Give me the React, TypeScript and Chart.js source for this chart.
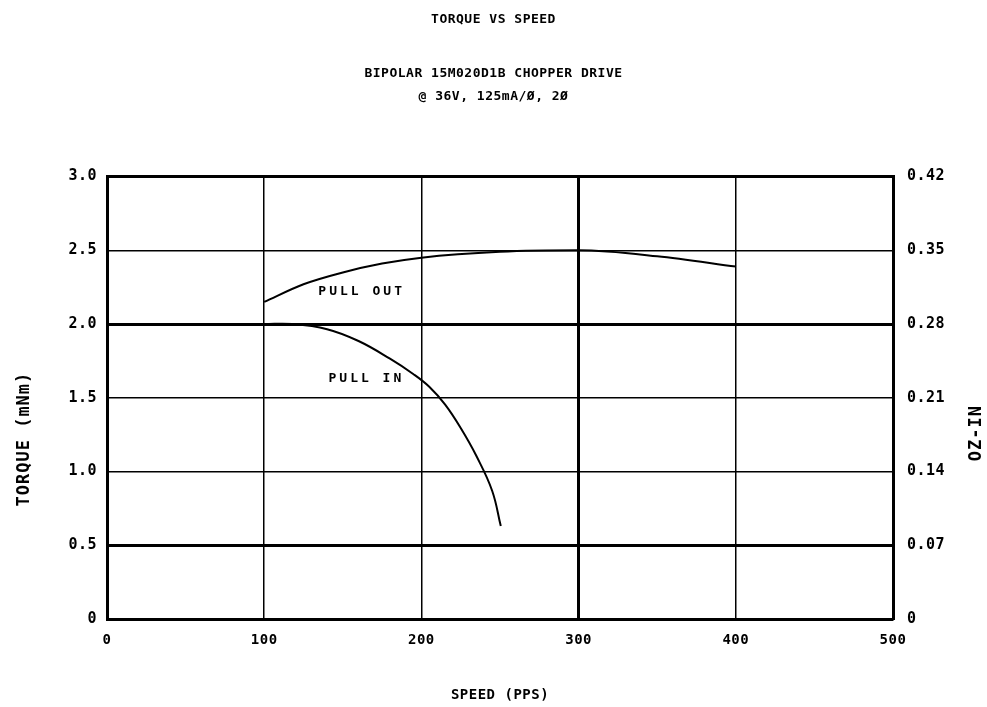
import React, { useEffect, useRef } from 'react';
import { Chart, registerables } from 'chart.js';

Chart.register(...registerables);

const titleText = 'TORQUE VS SPEED';
const subtitleLines = ['BIPOLAR 15M020D1B CHOPPER DRIVE', '@ 36V, 125mA/Ø, 2Ø'];
const xAxisTitle = 'SPEED (PPS)';
const yAxisTitle = 'TORQUE (mNm)';
const y2AxisTitle = 'OZ-IN';

const speedTicks = [0, 100, 200, 300, 400, 500];
const torqueTicks = [0, 0.5, 1.0, 1.5, 2.0, 2.5, 3.0];
const torqueTickLabels = ['0', '0.5', '1.0', '1.5', '2.0', '2.5', '3.0'];
const ozInTickLabels = ['0', '0.07', '0.14', '0.21', '0.28', '0.35', '0.42'];

const pullOutSpeed = [100, 125, 150, 175, 200, 250, 300, 350, 400];
const pullOutTorque = [2.15, 2.27, 2.35, 2.41, 2.45, 2.49, 2.5, 2.46, 2.39];

const pullInSpeed = [100, 118, 140, 160, 180, 195, 205, 215, 225, 235, 245, 250.5];
const pullInTorque = [2.0, 2.0, 1.965, 1.885, 1.765, 1.66, 1.575, 1.455, 1.295, 1.105, 0.87, 0.63];

const curveLabels = ['PULL OUT', 'PULL IN'];
const curveLabelSpeed = [162, 165];
const curveLabelTorque = [2.22, 1.63];

const FONT = "'DejaVu Sans Mono', 'Liberation Mono', monospace";

export default function App() {
  const ref = useRef<HTMLCanvasElement | null>(null);

  useEffect(() => {
    document.body.style.margin = '0';
    const canvas = ref.current;
    if (!canvas) return;

    const drawRotated = (ctx: any, text: string, x: number, y: number) => {
      ctx.save();
      try { ctx.letterSpacing = '1px'; } catch (e) {}
      ctx.fillStyle = '#000';
      ctx.font = `bold 17px ${FONT}`;
      ctx.textAlign = 'center';
      ctx.textBaseline = 'middle';
      ctx.translate(x, y);
      ctx.rotate(-Math.PI / 2);
      ctx.fillText(text, 0, 0);
      ctx.restore();
    };

    const textPlugin = {
      id: 'plotText',
      beforeDraw(chart: any) {
        try { chart.ctx.letterSpacing = '0.5px'; } catch (e) {}
      },
      afterDatasetsDraw(chart: any) {
        const { ctx, scales } = chart;
        ctx.save();
        try { ctx.letterSpacing = '3px'; } catch (e) {}
        ctx.fillStyle = '#000';
        ctx.font = `bold 13px ${FONT}`;
        ctx.textAlign = 'center';
        ctx.textBaseline = 'middle';
        curveLabels.forEach((t, i) => {
          ctx.fillText(t, scales.x.getPixelForValue(curveLabelSpeed[i]), scales.y.getPixelForValue(curveLabelTorque[i]));
        });
        ctx.restore();
      },
      afterDraw(chart: any) {
        const { ctx, scales } = chart;
        drawRotated(ctx, yAxisTitle, 25, scales.y.getPixelForValue(1.22));
        drawRotated(ctx, y2AxisTitle, 977, scales.y2.getPixelForValue(1.26));
      },
    };

    const chart = new Chart(canvas, {
      type: 'line',
      data: {
        datasets: [
          {
            label: 'PULL OUT',
            data: pullOutSpeed.map((s, i) => ({ x: s, y: pullOutTorque[i] })),
            borderColor: '#000',
            borderWidth: 2,
            pointRadius: 0,
            cubicInterpolationMode: 'monotone',
            fill: false,
          },
          {
            label: 'PULL IN',
            data: pullInSpeed.map((s, i) => ({ x: s, y: pullInTorque[i] })),
            borderColor: '#000',
            borderWidth: 2,
            pointRadius: 0,
            tension: 0.4,
            fill: false,
          },
        ],
      },
      options: {
        responsive: false,
        animation: false,
        layout: { padding: 0 },
        plugins: {
          legend: { display: false },
          tooltip: { enabled: false },
          title: {
            display: true,
            text: titleText,
            color: '#000',
            font: { family: FONT, size: 13, weight: 'bold', lineHeight: 1.2 },
            padding: { top: 12, bottom: 0 },
          },
          subtitle: {
            display: true,
            text: subtitleLines,
            color: '#000',
            font: { family: FONT, size: 13, weight: 'bold', lineHeight: 23 / 13 },
            padding: { top: 35, bottom: 68 },
          },
        },
        scales: {
          x: {
            type: 'linear',
            min: 0,
            max: 500,
            afterBuildTicks: (s: any) => { s.ticks = speedTicks.map((v) => ({ value: v })); },
            afterFit: (s: any) => { s.height = 88; },
            ticks: {
              color: '#000',
              font: { family: FONT, size: 14, weight: 'bold' },
              padding: 13,
              maxRotation: 0,
            },
            grid: {
              color: '#000',
              lineWidth: (c: any) => (c.tick && c.tick.value === 300 ? 3 : 1.5),
              drawTicks: false,
            },
            border: { display: true, color: '#000', width: 3 },
            title: {
              display: true,
              text: xAxisTitle,
              color: '#000',
              font: { family: FONT, size: 14, weight: 'bold', lineHeight: 1.2 },
              padding: { top: 0, bottom: 3 },
            },
          },
          y: {
            type: 'linear',
            position: 'left',
            min: 0,
            max: 3,
            afterBuildTicks: (s: any) => { s.ticks = torqueTicks.map((v) => ({ value: v })); },
            afterFit: (s: any) => { s.width = 107; },
            ticks: {
              color: '#000',
              font: { family: FONT, size: 15, weight: 'bold' },
              padding: 10,
              callback: (v: any) => torqueTickLabels[torqueTicks.indexOf(v)],
            },
            grid: {
              color: '#000',
              lineWidth: (c: any) => (c.tick && (c.tick.value === 2 || c.tick.value === 0.5 || c.tick.value === 3) ? 3 : 1.5),
              drawTicks: false,
            },
            border: { display: true, color: '#000', width: 3 },
            title: { display: false, text: yAxisTitle },
          },
          y2: {
            type: 'linear',
            position: 'right',
            min: 0,
            max: 3,
            afterBuildTicks: (s: any) => { s.ticks = torqueTicks.map((v) => ({ value: v })); },
            afterFit: (s: any) => { s.width = 94; },
            ticks: {
              color: '#000',
              font: { family: FONT, size: 15, weight: 'bold' },
              padding: 14,
              callback: (v: any) => ozInTickLabels[torqueTicks.indexOf(v)],
            },
            grid: { display: false, drawTicks: false },
            border: { display: true, color: '#000', width: 3 },
            title: { display: false, text: y2AxisTitle },
          },
        },
      },
      plugins: [textPlugin],
    } as any);

    return () => chart.destroy();
  }, []);

  return (
    <div style={{ width: 987, height: 707 }}>
      <canvas ref={ref} width={987} height={707} />
    </div>
  );
}
